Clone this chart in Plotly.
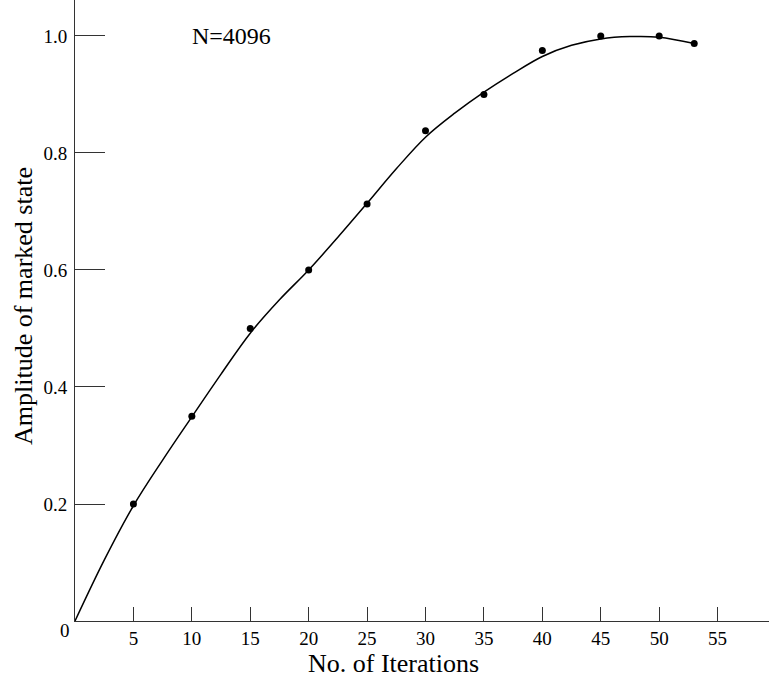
import plotly.graph_objects as go

# Measured data points
iterations = [5, 10, 15, 20, 25, 30, 35, 40, 45, 50, 53]
amplitude = [0.20, 0.35, 0.50, 0.60, 0.713, 0.838, 0.90, 0.975, 1.00, 1.00, 0.987]

# Smooth fitted curve
curve_x = [0, 2.5, 5, 7.5, 10, 12.5, 15, 17.5, 20, 22.5, 25, 27.5, 30, 32.5,
           35, 37.5, 40, 42.5, 45, 47.5, 50, 53]
curve_y = [0, 0.104, 0.197, 0.275, 0.349, 0.422, 0.492, 0.549, 0.600, 0.656,
           0.714, 0.773, 0.827, 0.868, 0.904, 0.936, 0.965, 0.984, 0.995, 0.999,
           0.998, 0.987]

x_ticks = [5, 10, 15, 20, 25, 30, 35, 40, 45, 50, 55]
y_ticks = [0.2, 0.4, 0.6, 0.8, 1.0]
y_tick_text = ["0.2", "0.4", "0.6", "0.8", "1.0"]

FONT = "Liberation Serif, Times New Roman, serif"
AX = "#333333"

fig = go.Figure()
fig.add_trace(go.Scatter(
    x=curve_x, y=curve_y, mode="lines",
    line=dict(color="black", width=1.5, shape="spline", smoothing=1.0),
    hoverinfo="skip", showlegend=False,
))
fig.add_trace(go.Scatter(
    x=iterations, y=amplitude, mode="markers",
    marker=dict(color="black", size=7),
    showlegend=False,
))

fig.update_layout(
    width=769, height=681,
    margin=dict(l=75, r=0, t=0, b=60),
    paper_bgcolor="white", plot_bgcolor="white",
    font=dict(family=FONT, size=19, color="black"),
    xaxis=dict(
        range=[0, 59.4], tickvals=x_ticks, ticktext=[str(v) for v in x_ticks],
        ticks="inside", ticklen=14, tickwidth=1, tickcolor=AX,
        showline=True, linecolor=AX, linewidth=1,
        showgrid=False, zeroline=False, ticklabelstandoff=0,
    ),
    yaxis=dict(
        range=[0, 1.0615], tickvals=y_ticks, ticktext=y_tick_text,
        ticks="inside", ticklen=30, tickwidth=1, tickcolor=AX,
        showline=True, linecolor=AX, linewidth=1,
        showgrid=False, zeroline=False, ticklabelstandoff=3,
    ),
    annotations=[
        dict(text="No. of Iterations", xref="paper", yref="paper",
             x=(393 - 75) / 694, y=-42 / 621, xanchor="center", yanchor="middle",
             showarrow=False, font=dict(family=FONT, size=26)),
        dict(text="Amplitude of marked state", xref="paper", yref="paper",
             x=(23 - 75) / 694, y=(621 - 306) / 621, xanchor="center", yanchor="middle",
             textangle=-90, showarrow=False, font=dict(family=FONT, size=26)),
        dict(text="N=4096", xref="x", yref="y",
             x=(231 - 75) / 11.68, y=1.0, xanchor="center", yanchor="middle",
             showarrow=False, font=dict(family=FONT, size=24)),
        dict(text="0", xref="x", yref="y", x=0, y=0,
             xanchor="center", yanchor="middle", xshift=-10, yshift=-9,
             showarrow=False, font=dict(family=FONT, size=19)),
    ],
)

fig.write_html("out.html", config={"displayModeBar": False},
               post_script="document.body.style.margin='0';")
